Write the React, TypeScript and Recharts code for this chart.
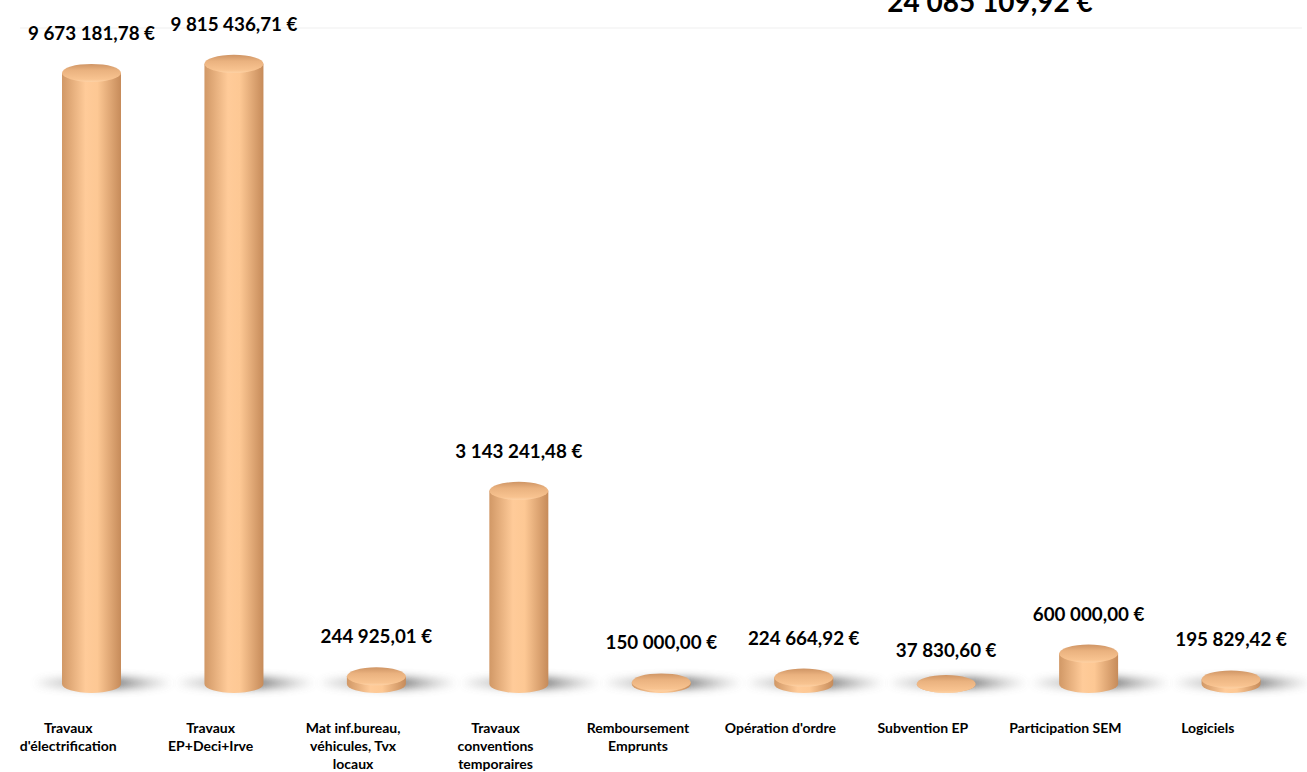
import { BarChart, Bar, XAxis, YAxis, LabelList, ReferenceLine } from "recharts";

const categories = [
  "Travaux\nd'électrification",
  "Travaux\nEP+Deci+Irve",
  "Mat inf.bureau,\nvéhicules, Tvx\nlocaux",
  "Travaux\nconventions\ntemporaires",
  "Remboursement\nEmprunts",
  "Opération d'ordre",
  "Subvention EP",
  "Participation SEM",
  "Logiciels",
];

const amounts = [
  9673181.78, 9815436.71, 244925.01, 3143241.48, 150000.0, 224664.92, 37830.6,
  600000.0, 195829.42,
];

const data = categories.map((name, i) => ({ name, value: amounts[i] }));
const total = amounts.reduce((a, b) => a + b, 0);

const FONT = "Lato, 'Open Sans', sans-serif";
const yMax = 10375000;

// 9 673 181,78 €
const euro = (v: number) => {
  const [int, dec] = v.toFixed(2).split(".");
  return int.replace(/\B(?=(\d{3})+(?!\d))/g, " ") + "," + dec + " €";
};

const Cylinder = (props: any) => {
  const { x, y, width, height, index } = props;
  const rx = width / 2;
  const ry = 9;
  const cx = x + rx;
  // the floor sits a bit above the zero line (3D perspective of the original)
  const bot = y + height - 8;
  const top = Math.min(y, bot);
  const id = `cyl${index}`;
  const body = `M ${x} ${top} L ${x} ${bot} A ${rx} ${ry} 0 0 0 ${x + width} ${bot} L ${x + width} ${top} Z`;
  return (
    <g>
      <defs>
        <linearGradient id={`${id}-body`} x1="0" y1="0" x2="1" y2="0">
          <stop offset="0%" stopColor="#d19866" />
          <stop offset="40%" stopColor="#ffcb99" />
          <stop offset="60%" stopColor="#fdc894" />
          <stop offset="100%" stopColor="#c68b5a" />
        </linearGradient>
        <linearGradient id={`${id}-top`} x1="0" y1="0" x2="0" y2="1">
          <stop offset="0%" stopColor="#cf9565" />
          <stop offset="35%" stopColor="#eab27f" />
          <stop offset="85%" stopColor="#f8c390" />
          <stop offset="100%" stopColor="#fdd2a6" />
        </linearGradient>
        <linearGradient id={`${id}-shadow`} x1="0" y1="0" x2="1" y2="0">
          <stop offset="0%" stopColor="#9a9a9a" stopOpacity={0.3} />
          <stop offset="60%" stopColor="#4a4a4a" stopOpacity={0.95} />
          <stop offset="100%" stopColor="#9a9a9a" stopOpacity={0.2} />
        </linearGradient>
        <filter id={`${id}-blur`} x="-50%" y="-300%" width="200%" height="700%">
          <feGaussianBlur stdDeviation="4.5" />
        </filter>
      </defs>
      <ellipse
        cx={cx + 12}
        cy={bot - 1}
        rx={width * 1.15}
        ry={5.5}
        fill={`url(#${id}-shadow)`}
        opacity={0.8}
        filter={`url(#${id}-blur)`}
      />
      <path d={body} fill={`url(#${id}-body)`} />
      <ellipse cx={cx} cy={top} rx={rx} ry={ry} fill={`url(#${id}-top)`} />
    </g>
  );
};

const CategoryTick = (props: any) => {
  const { x, y, payload } = props;
  const lines: string[] = String(payload.value).split("\n");
  const cx = x - 23;
  return (
    <text
      x={cx}
      y={y}
      textAnchor="middle"
      fontFamily={FONT}
      fontWeight={700}
      fontSize={14}
      fill="#000"
    >
      {lines.map((l, i) => (
        <tspan key={i} x={cx} dy={i === 0 ? 33 : 18}>
          {l}
        </tspan>
      ))}
    </text>
  );
};

const ValueLabel = (props: any) => {
  const { x, y, width, value } = props;
  return (
    <text
      x={x + width / 2}
      y={y - 33}
      textAnchor="middle"
      fontFamily={FONT}
      fontWeight={700}
      fontSize={18.8}
      fill="#000"
    >
      {euro(value)}
    </text>
  );
};

export default function App() {
  return (
    <div
      style={{
        position: "fixed",
        left: 0,
        top: 0,
        width: 1307,
        height: 772,
        overflow: "hidden",
        background: "#fff",
      }}
    >
      <div
        style={{
          position: "absolute",
          left: 990,
          top: -13,
          transform: "translateX(-50%)",
          fontFamily: FONT,
          fontWeight: 700,
          fontSize: 28,
          lineHeight: "28px",
          whiteSpace: "nowrap",
          color: "#000",
        }}
      >
        {euro(total)}
      </div>
      <BarChart
        width={1307}
        height={772}
        data={data}
        margin={{ top: 28, right: 5, left: 20, bottom: 0 }}
        barSize={59}
      >
        <XAxis
          dataKey="name"
          interval={0}
          axisLine={false}
          tickLine={false}
          height={80}
          tick={<CategoryTick />}
        />
        <YAxis hide domain={[0, yMax]} />
        <ReferenceLine y={yMax} stroke="#efefef" strokeWidth={1} />
        <Bar dataKey="value" shape={<Cylinder />} isAnimationActive={false}>
          <LabelList dataKey="value" content={<ValueLabel />} />
        </Bar>
      </BarChart>
    </div>
  );
}
